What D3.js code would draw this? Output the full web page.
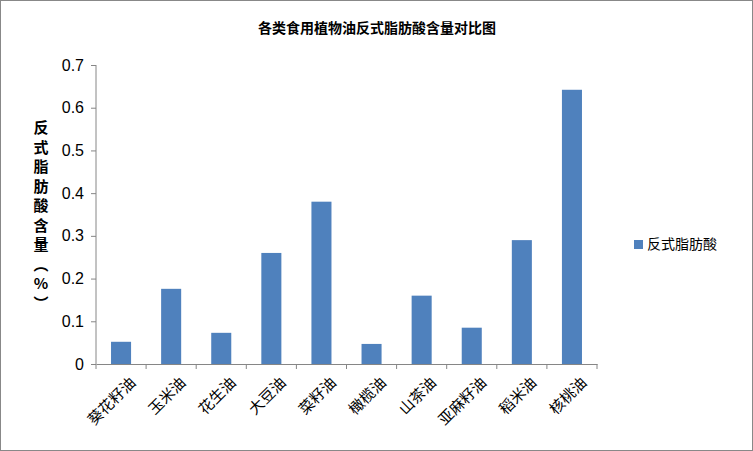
<!DOCTYPE html>
<html>
<head>
<meta charset="UTF-8">
<style>
  body { margin: 0; background: #fff; font-family: "Liberation Sans", Arial, sans-serif; }
  .cjk { font-family: "Noto Sans CJK SC", sans-serif; }
</style>
</head>
<body>
<svg width="753" height="451"></svg>
<script src="https://d3js.org/d3.v7.min.js"></script>
<script>
const categories = ["葵花籽油", "玉米油", "花生油", "大豆油", "菜籽油", "橄榄油", "山茶油", "亚麻籽油", "稻米油", "核桃油"];
const values = [0.052, 0.176, 0.073, 0.26, 0.38, 0.047, 0.16, 0.085, 0.29, 0.642];
const yTicks = [0, 0.1, 0.2, 0.3, 0.4, 0.5, 0.6, 0.7];
const seriesName = "反式脂肪酸";

const svg = d3.select("svg");
svg.append("rect").attr("x", 0.5).attr("y", 0.5).attr("width", 752).attr("height", 450)
  .attr("fill", "#fff").attr("stroke", "#888");

const plotLeft = 96, plotRight = 597, plotTop = 65, plotBottom = 364;
const x = d3.scaleBand().domain(categories).range([plotLeft, plotRight]).paddingInner(0.6).paddingOuter(0.3);
const y = d3.scaleLinear().domain([0, 0.7]).range([plotBottom, plotTop]);

svg.append("text").attr("class", "cjk").attr("x", 377).attr("y", 33).attr("text-anchor", "middle")
  .attr("font-size", 14).attr("font-weight", "bold").text("各类食用植物油反式脂肪酸含量对比图");

// y axis
const ya = svg.append("g").attr("transform", `translate(${plotLeft},0)`)
  .call(d3.axisLeft(y).tickValues(yTicks).tickSize(5).tickFormat(d => d === 0 ? "0" : d3.format(".1f")(d)));
ya.select(".domain").attr("stroke", "#868686").attr("d", `M0,${plotTop}V${plotBottom}`);
ya.selectAll(".tick line").attr("stroke", "#868686");
ya.selectAll(".tick text").attr("font-size", 16).attr("fill", "#000").attr("x", -12)
  .attr("font-family", "Liberation Sans, Arial, sans-serif");

// x axis
const xa = svg.append("g").attr("transform", `translate(0,${plotBottom})`)
  .call(d3.axisBottom(x).tickSize(0));
xa.select(".domain").attr("stroke", "#868686");
xa.selectAll(".tick text").attr("class", "cjk").attr("font-size", 15).attr("fill", "#000")
  .attr("text-anchor", "end").attr("transform", "translate(6,10) rotate(-45)").attr("dy", "0.7em");
// category separators
svg.append("g").selectAll("line").data(categories.concat([null])).join("line")
  .attr("x1", (d, i) => plotLeft + i * (plotRight - plotLeft) / categories.length)
  .attr("x2", (d, i) => plotLeft + i * (plotRight - plotLeft) / categories.length)
  .attr("y1", plotBottom).attr("y2", plotBottom + 5).attr("stroke", "#868686");

svg.append("g").selectAll("rect").data(values).join("rect")
  .attr("x", (d, i) => x(categories[i]))
  .attr("width", x.bandwidth())
  .attr("y", d => y(d))
  .attr("height", d => plotBottom - y(d))
  .attr("fill", "#4f81bd");

// y label stacked
const yl = "反式脂肪酸含量（%）".split("");
svg.append("g").selectAll("text").data(yl).join("text").attr("class", "cjk")
  .attr("x", 41).attr("y", (d, i) => 133 + i * 19.5).attr("text-anchor", "middle")
  .attr("font-size", 15).attr("font-weight", "bold").text(d => d === "（" ? "︵" : d === "）" ? "︶" : d);

// legend
svg.append("rect").attr("x", 634).attr("y", 240).attr("width", 9).attr("height", 9).attr("fill", "#4f81bd");
svg.append("text").attr("class", "cjk").attr("x", 647).attr("y", 249).attr("font-size", 14).text(seriesName);
</script>
</body>
</html>
